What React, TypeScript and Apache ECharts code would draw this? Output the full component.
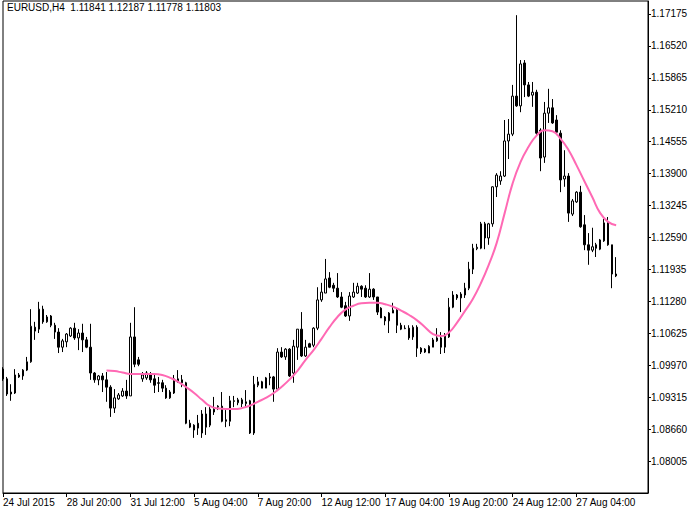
import React, { useEffect, useRef } from 'react';
import * as echarts from 'echarts';

const FONT = '"Liberation Sans", Arial, sans-serif';

const titleText = 'EURUSD,H4  1.11841 1.12187 1.11778 1.11803';

// x axis labels, one every 16 bars (H4)
const tickLabels = [
  '24 Jul 2015', '28 Jul 20:00', '31 Jul 12:00', '5 Aug 04:00', '7 Aug 20:00',
  '12 Aug 12:00', '17 Aug 04:00', '19 Aug 20:00', '24 Aug 12:00', '27 Aug 04:00'
];

// price scale labels on the right
const priceTicks = [
  1.08005, 1.0866, 1.09315, 1.0997, 1.10625, 1.1128, 1.11935, 1.1259,
  1.13245, 1.139, 1.14555, 1.1521, 1.15865, 1.1652, 1.17175
];

const opens = [
  1.0989, 1.0969, 1.0938, 1.0940, 1.0977, 1.0975, 1.0987, 1.1004, 1.1075, 1.1071,
  1.1112, 1.1086, 1.1098, 1.1079, 1.1065, 1.1034, 1.1045, 1.1057, 1.1073, 1.1053,
  1.1063, 1.1049, 1.1034, 1.0981, 1.0967, 1.0975, 1.0967, 1.0952, 1.0909, 1.0928,
  1.0934, 1.0944, 1.0934, 1.1055, 1.1008, 1.0969, 1.0971, 1.0977, 1.0969, 1.0961,
  1.0961, 1.0950, 1.0930, 1.0940, 1.0969, 1.0967, 1.0961, 1.0878, 1.0874, 1.0878,
  1.0858, 1.0897, 1.0874, 1.0901, 1.0911, 1.0913, 1.0885, 1.0882, 1.0924, 1.0920,
  1.0926, 1.0918, 1.0924, 1.0858, 1.0956, 1.0963, 1.0950, 1.0971, 1.0973, 1.0948,
  1.1024, 1.1014, 1.1030, 1.0981, 1.1034, 1.1071, 1.1016, 1.1041, 1.1038, 1.1073,
  1.1131, 1.1145, 1.1176, 1.1161, 1.1155, 1.1137, 1.1119, 1.1098, 1.1137, 1.1145,
  1.1159, 1.1155, 1.1137, 1.1153, 1.1137, 1.1114, 1.1096, 1.1088, 1.1104, 1.1110,
  1.1079, 1.1072, 1.1073, 1.1055, 1.1075, 1.1032, 1.1030, 1.1022, 1.1034, 1.1047,
  1.1053, 1.1034, 1.1055, 1.1116, 1.1141, 1.1135, 1.1141, 1.1155, 1.1194, 1.1236,
  1.1237, 1.1287, 1.1258, 1.1287, 1.1363, 1.1375, 1.1385, 1.1457, 1.1471, 1.1549,
  1.1529, 1.1617, 1.1572, 1.1551, 1.1557, 1.1479, 1.1424, 1.1514, 1.1525, 1.1500,
  1.1473, 1.1379, 1.1385, 1.1307, 1.1332, 1.1352, 1.1285, 1.1244, 1.1233, 1.1244,
  1.1235, 1.1252, 1.1289, 1.1244, 1.11841
];

const closes = [
  1.0969, 1.0938, 1.0942, 1.0977, 1.0973, 1.0987, 1.1004, 1.1077, 1.1067, 1.1112,
  1.1086, 1.1096, 1.1079, 1.1065, 1.1034, 1.1047, 1.1061, 1.1073, 1.1053, 1.1063,
  1.1049, 1.1034, 1.0981, 1.0967, 1.0975, 1.0967, 1.0952, 1.0909, 1.0930, 1.0936,
  1.0944, 1.0934, 1.1055, 1.0999, 1.0999, 1.0977, 1.0981, 1.0967, 1.0956, 1.0960,
  1.0950, 1.0930, 1.0942, 1.0969, 1.0963, 1.0961, 1.0878, 1.0870, 1.0864, 1.0868,
  1.0897, 1.0870, 1.0907, 1.0907, 1.0913, 1.0882, 1.0882, 1.0924, 1.0923, 1.0926,
  1.0918, 1.0922, 1.0858, 1.0958, 1.0963, 1.0950, 1.0971, 1.0973, 1.0948, 1.1024,
  1.1014, 1.1030, 1.0975, 1.1036, 1.1071, 1.1016, 1.1034, 1.1034, 1.1073, 1.1131,
  1.1147, 1.1174, 1.1157, 1.1155, 1.1137, 1.1116, 1.1098, 1.1139, 1.1147, 1.1159,
  1.1153, 1.1137, 1.1153, 1.1137, 1.1106, 1.1094, 1.1088, 1.1104, 1.1110, 1.1079,
  1.1071, 1.1073, 1.1053, 1.1075, 1.1032, 1.1024, 1.1024, 1.1036, 1.1049, 1.1053,
  1.1034, 1.1057, 1.1116, 1.1141, 1.1135, 1.1143, 1.1155, 1.1194, 1.1237, 1.1239,
  1.1287, 1.1258, 1.1287, 1.1363, 1.1387, 1.1385, 1.1457, 1.1471, 1.1549, 1.1529,
  1.1615, 1.1572, 1.1549, 1.1557, 1.1473, 1.1422, 1.1514, 1.1525, 1.1494, 1.1475,
  1.1377, 1.1385, 1.1309, 1.1334, 1.1352, 1.1281, 1.1244, 1.1233, 1.1240, 1.1237,
  1.1254, 1.1289, 1.1244, 1.1184, 1.11803
];

const lows = [
  1.0965, 1.0934, 1.0924, 1.0938, 1.0971, 1.0967, 1.0985, 1.1002, 1.1049, 1.1063,
  1.1082, 1.1084, 1.1075, 1.1051, 1.1022, 1.1024, 1.1034, 1.1055, 1.1049, 1.1028,
  1.1024, 1.1032, 1.0967, 1.0961, 1.0956, 1.0942, 1.0922, 1.0891, 1.0899, 1.0926,
  1.0932, 1.0928, 1.0934, 1.0993, 1.0995, 1.0963, 1.0967, 1.0961, 1.0940, 1.0942,
  1.0942, 1.0928, 1.0928, 1.0938, 1.0961, 1.0952, 1.0876, 1.0868, 1.0848, 1.0854,
  1.0848, 1.0854, 1.0870, 1.0895, 1.0905, 1.0880, 1.0870, 1.0872, 1.0911, 1.0915,
  1.0911, 1.0911, 1.0856, 1.0854, 1.0952, 1.0950, 1.0950, 1.0956, 1.0922, 1.0944,
  1.1012, 1.1008, 1.0973, 1.0961, 1.1008, 1.1014, 1.1014, 1.1034, 1.1034, 1.1069,
  1.1127, 1.1145, 1.1155, 1.1147, 1.1135, 1.1114, 1.1096, 1.1088, 1.1135, 1.1143,
  1.1137, 1.1135, 1.1135, 1.1131, 1.1100, 1.1094, 1.1079, 1.1063, 1.1104, 1.1063,
  1.1069, 1.1071, 1.1049, 1.1049, 1.1014, 1.1020, 1.1022, 1.1022, 1.1034, 1.1045,
  1.1020, 1.1022, 1.1053, 1.1114, 1.1131, 1.1106, 1.1135, 1.1151, 1.1184, 1.1233,
  1.1235, 1.1235, 1.1244, 1.1281, 1.1342, 1.1367, 1.1383, 1.1420, 1.1467, 1.1527,
  1.1516, 1.1547, 1.1547, 1.1527, 1.1469, 1.1395, 1.1412, 1.1494, 1.1492, 1.1469,
  1.1352, 1.1363, 1.1291, 1.1303, 1.1330, 1.1279, 1.1233, 1.1203, 1.1229, 1.1219,
  1.1233, 1.1250, 1.1242, 1.1155, 1.11778
];

const highs = [
  1.0993, 1.0973, 1.0958, 1.0989, 1.0981, 1.0989, 1.1014, 1.1112, 1.1086, 1.1127,
  1.1119, 1.1100, 1.1100, 1.1084, 1.1073, 1.1051, 1.1063, 1.1075, 1.1084, 1.1071,
  1.1082, 1.1055, 1.1082, 1.0983, 1.0977, 1.0981, 1.0983, 1.0956, 1.0948, 1.0940,
  1.0950, 1.0967, 1.1084, 1.1116, 1.1014, 1.0983, 1.0985, 1.0983, 1.0977, 1.0973,
  1.0967, 1.0956, 1.0946, 1.0977, 1.0987, 1.0977, 1.0963, 1.0885, 1.0876, 1.0895,
  1.0905, 1.0911, 1.0911, 1.0932, 1.0915, 1.0942, 1.0905, 1.0934, 1.0934, 1.0930,
  1.0930, 1.0946, 1.0926, 1.0975, 1.0973, 1.0965, 1.0973, 1.0981, 1.0975, 1.1032,
  1.1034, 1.1032, 1.1032, 1.1049, 1.1071, 1.1106, 1.1049, 1.1043, 1.1075, 1.1157,
  1.1166, 1.1215, 1.1188, 1.1166, 1.1186, 1.1147, 1.1127, 1.1147, 1.1166, 1.1166,
  1.1161, 1.1161, 1.1186, 1.1155, 1.1137, 1.1116, 1.1098, 1.1106, 1.1125, 1.1114,
  1.1084, 1.1079, 1.1079, 1.1079, 1.1079, 1.1034, 1.1032, 1.1038, 1.1053, 1.1073,
  1.1065, 1.1063, 1.1135, 1.1149, 1.1143, 1.1147, 1.1166, 1.1209, 1.1246, 1.1246,
  1.1291, 1.1291, 1.1289, 1.1364, 1.1391, 1.1395, 1.1500, 1.1502, 1.1572, 1.1715,
  1.1623, 1.1623, 1.1578, 1.1578, 1.1562, 1.1483, 1.1537, 1.1564, 1.1543, 1.1510,
  1.1479, 1.1438, 1.1391, 1.1338, 1.1354, 1.1365, 1.1305, 1.1268, 1.1279, 1.1248,
  1.1256, 1.1297, 1.1301, 1.1244, 1.12187
];

// moving average, read every second bar
const maBars = [
  26, 28, 30, 32, 34, 36, 38, 40, 42, 44, 46, 48, 50, 52, 54, 56, 58, 60, 62, 64,
  66, 68, 70, 72, 74, 76, 78, 80, 82, 84, 86, 88, 90, 92, 94, 96, 98, 100, 102, 104,
  106, 108, 110, 112, 114, 116, 118, 120, 122, 124, 126, 128, 130, 132, 134, 136, 138, 140, 142, 144,
  146, 148, 150, 152, 154
];
const maValues = [
  1.0986, 1.0985, 1.0982, 1.0979, 1.0979, 1.0979, 1.0979, 1.0977, 1.0971, 1.0963,
  1.0952, 1.0940, 1.0926, 1.0913, 1.0908, 1.0907, 1.0907, 1.0909, 1.0914, 1.0922,
  1.0930, 1.0940, 1.0953, 1.0968, 1.0986, 1.1008, 1.1028, 1.1051, 1.1075, 1.1096,
  1.1111, 1.1119, 1.1124, 1.1125, 1.1125, 1.1122, 1.1117, 1.1109, 1.1100, 1.1089,
  1.1075, 1.1061, 1.1057, 1.1064, 1.1084, 1.1108, 1.1133, 1.1165, 1.1203, 1.1248,
  1.1309, 1.1370, 1.1414, 1.1445, 1.1468, 1.1479, 1.1477, 1.1462, 1.1439, 1.1408,
  1.1375, 1.1342, 1.1309, 1.1291, 1.1284
];

const SLOT_COUNT = 163; // bars plus empty space on the right
const Y_MIN = 1.07349;
const Y_MAX = 1.17441;

const App = () => {
  const chartRef = useRef<HTMLDivElement>(null);

  useEffect(() => {
    document.body.style.margin = '0';
    const chart = echarts.init(chartRef.current, null, { renderer: 'svg' });

    const slots = Array.from({ length: SLOT_COUNT }, (_, i) => String(i));
    const candles = opens.map((o, i) => [o, closes[i], lows[i], highs[i]]);
    const isTick = (index: number) => index % 16 === 0 && index / 16 < tickLabels.length;

    chart.setOption({
      animation: false,
      backgroundColor: '#ffffff',
      graphic: [
        {
          type: 'text',
          left: 7,
          top: 2,
          z: 100,
          style: { text: titleText, fontSize: 10, fontFamily: FONT, fill: '#000' }
        }
      ],
      grid: {
        left: 2,
        right: 52,
        top: 1,
        bottom: 20,
        show: true,
        borderColor: '#000',
        borderWidth: 1
      },
      xAxis: {
        type: 'category',
        data: slots,
        boundaryGap: false,
        axisLine: { show: true, lineStyle: { color: '#000', width: 1 } },
        axisTick: { show: true, length: 4, interval: isTick, lineStyle: { color: '#000' } },
        axisLabel: {
          interval: isTick,
          formatter: (_v: string, i: number) => tickLabels[i / 16] ?? '',
          align: 'left',
          color: '#000',
          fontSize: 10,
          fontFamily: FONT,
          margin: 4
        },
        splitLine: { show: false }
      },
      yAxis: {
        type: 'value',
        position: 'right',
        min: Y_MIN,
        max: Y_MAX,
        scale: true,
        axisLine: { show: true, lineStyle: { color: '#000' } },
        axisTick: { show: true, length: 3, customValues: priceTicks, lineStyle: { color: '#000' } },
        axisLabel: {
          customValues: priceTicks,
          formatter: (v: number) => v.toFixed(5),
          color: '#000',
          fontSize: 10,
          fontFamily: FONT,
          margin: 3
        },
        splitLine: { show: false }
      },
      series: [
        {
          type: 'candlestick',
          data: candles,
          barWidth: 2,
          itemStyle: {
            color: '#ffffff',
            color0: '#000000',
            borderColor: '#000000',
            borderColor0: '#000000',
            borderWidth: 1
          },
          emphasis: { disabled: true }
        },
        {
          type: 'line',
          data: maBars.map((b, i) => [b, maValues[i]]),
          smooth: true,
          showSymbol: false,
          lineStyle: { color: '#ff69b4', width: 2 },
          z: 3,
          emphasis: { disabled: true }
        }
      ]
    });

    return () => {
      chart.dispose();
    };
  }, []);

  return <div ref={chartRef} style={{ width: '700px', height: '513px' }}></div>;
};

export default App;
